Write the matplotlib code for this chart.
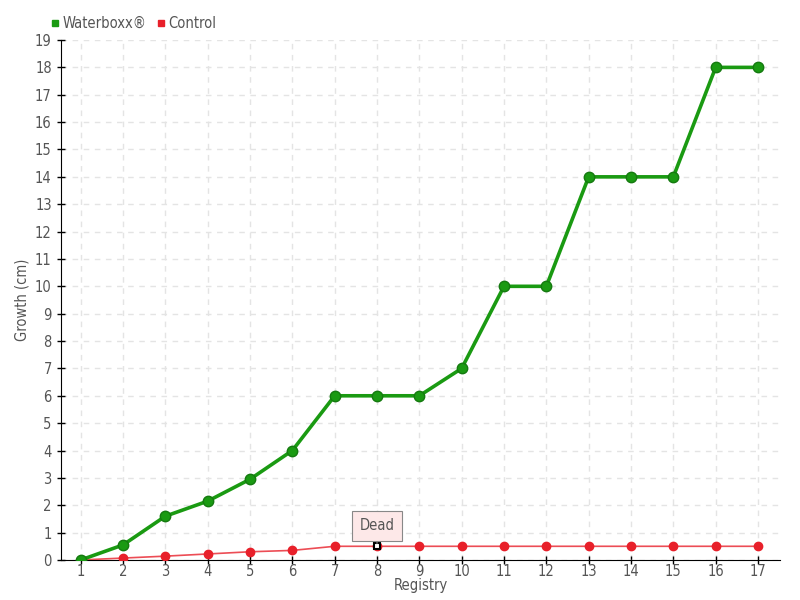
import matplotlib
matplotlib.use("Agg")
import matplotlib.pyplot as plt
from matplotlib.lines import Line2D

plt.rcParams['font.family'] = ['DejaVu Sans']
plt.rcParams['font.stretch'] = 'condensed'

registry = list(range(1, 18))
waterboxx = [0, 0.55, 1.6, 2.15, 2.95, 4, 6, 6, 6, 7, 10, 10, 14, 14, 14, 18, 18]
control = [0, 0.07, 0.14, 0.22, 0.3, 0.35, 0.5, 0.5, 0.5, 0.5, 0.5, 0.5, 0.5, 0.5, 0.5, 0.5, 0.5]
dead_idx = 7  # registry 8

green = '#1a9a12'
red = '#e8202a'
txt = '#555555'

fig = plt.figure(figsize=(8, 6), dpi=100)
ax = fig.add_axes([0.076, 0.0667, 0.899, 0.8666])

ax.plot(registry, waterboxx, color=green, lw=2.6, marker='o', ms=7.5,
        mfc=green, mec='#157a10', zorder=4)
ax.plot(registry, control, color=red, lw=1.2, alpha=0.8, zorder=3)
ax.plot(registry, control, ls='none', marker='o', ms=6, mfc=red, mec=red, zorder=3)
ax.plot(registry[dead_idx], control[dead_idx], marker='s', ms=5, mfc='white',
        mec='black', mew=1.5, ls='none', zorder=5)

ax.annotate('Dead', xy=(registry[dead_idx], control[dead_idx] + 0.1),
            xytext=(registry[dead_idx], control[dead_idx] + 0.75),
            ha='center', va='center', fontsize=10.5, color=txt,
            bbox=dict(boxstyle='square,pad=0.5', fc='#fde8e8', ec='#888888', lw=0.8),
            arrowprops=dict(arrowstyle='-', color='#888888', lw=0.8), zorder=6)

ax.set_xlim(0.53, 17.52)
ax.set_ylim(0, 19)
ax.set_xticks(registry)
ax.set_yticks(range(0, 20))
ax.grid(True, ls=(0, (4, 4)), color='#e4e4e4', lw=1)
ax.set_axisbelow(True)
for s in ['top', 'right']:
    ax.spines[s].set_visible(False)
ax.tick_params(direction='inout', length=6, width=1, colors='black',
               labelcolor=txt, labelsize=10.5)
ax.tick_params(axis='x', pad=0)
ax.set_xlabel('Registry', color=txt, fontsize=10.5, labelpad=-1)
ax.set_ylabel('Growth (cm)', color=txt, fontsize=10.5, labelpad=4)

handles = [Line2D([], [], ls='none', marker='s', ms=5, color=green),
           Line2D([], [], ls='none', marker='s', ms=5, color=red)]
fig.legend(handles, ['Waterboxx®', 'Control'], loc='upper left',
           bbox_to_anchor=(0.043, 0.995), ncol=2, frameon=False, fontsize=10.5,
           handletextpad=0.0, columnspacing=0.5, labelcolor=txt, handlelength=1)

fig.savefig('out.png', dpi=100)
